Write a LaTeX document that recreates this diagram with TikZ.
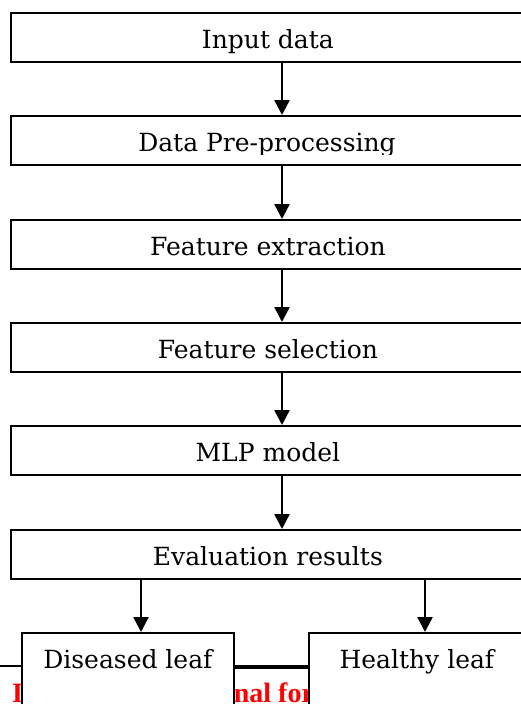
\documentclass[tikz,border=0pt]{standalone}
\usepackage{fontspec}
\setmainfont{DejaVu Serif}
\newfontfamily\hdrfont{Liberation Serif}
\usetikzlibrary{arrows.meta}
\begin{document}
\begin{tikzpicture}[x=1pt,y=-1pt,
  box/.style={draw, fill=white, line width=1.8pt, inner xsep=0pt, inner ysep=0pt,
    text height=36pt, text depth=13pt, font=\fontsize{25}{28}\selectfont},
  wide/.style={box, minimum width=514pt, anchor=north west},
  small/.style={box, text depth=80pt, anchor=north west},
  lbl/.style={inner sep=0pt, anchor=base, font=\fontsize{25}{28}\selectfont},
  arr/.style={line width=2.5pt, -{Triangle[length=15pt,width=15pt]}},
  hdrtext/.style={font=\hdrfont\bfseries\fontsize{28}{30}\selectfont, text=red, anchor=base west, inner sep=0pt}]
\useasboundingbox (0,0) rectangle (520,704);
% header remnants behind boxes
\node[hdrtext] (hdr) at (12,702) {International Journal for};
\coordinate (r0) at (0,666);
\coordinate (r1) at (24,666);
\coordinate (r2) at (230,667);
\coordinate (r3) at (311,667);
\draw[line width=2pt] (r0) -- (r1);
\draw[line width=4pt] (r2) -- (r3);
% main column
\node[wide] (n1) at (10,12) {Input data};
\node[wide] (n2) at (10,115) {};
\begin{scope}
  \clip (10,115) rectangle (524,154.5);
  \node[lbl] (t2) at (267,151) {Data Pre-processing};
\end{scope}
\node[wide] (n3) at (10,219) {Feature extraction};
\node[wide] (n4) at (10,322) {Feature selection};
\node[wide] (n5) at (10,425) {MLP model};
\node[wide] (n6) at (10,529) {Evaluation results};
\node[small, minimum width=212pt] (d) at (21,632) {Diseased leaf};
\node[small, minimum width=216pt] (h) at (308,632) {Healthy leaf};
% arrows
\coordinate (ax) at (282,0);
\coordinate (bl) at (141,0);
\coordinate (br) at (425,0);
\draw[arr] (n1.south -| ax) -- (n2.north -| ax);
\draw[arr] (n2.south -| ax) -- (n3.north -| ax);
\draw[arr] (n3.south -| ax) -- (n4.north -| ax);
\draw[arr] (n4.south -| ax) -- (n5.north -| ax);
\draw[arr] (n5.south -| ax) -- (n6.north -| ax);
\draw[arr] (n6.south -| bl) -- (d.north -| bl);
\draw[arr] (n6.south -| br) -- (h.north -| br);
\end{tikzpicture}
\end{document}
